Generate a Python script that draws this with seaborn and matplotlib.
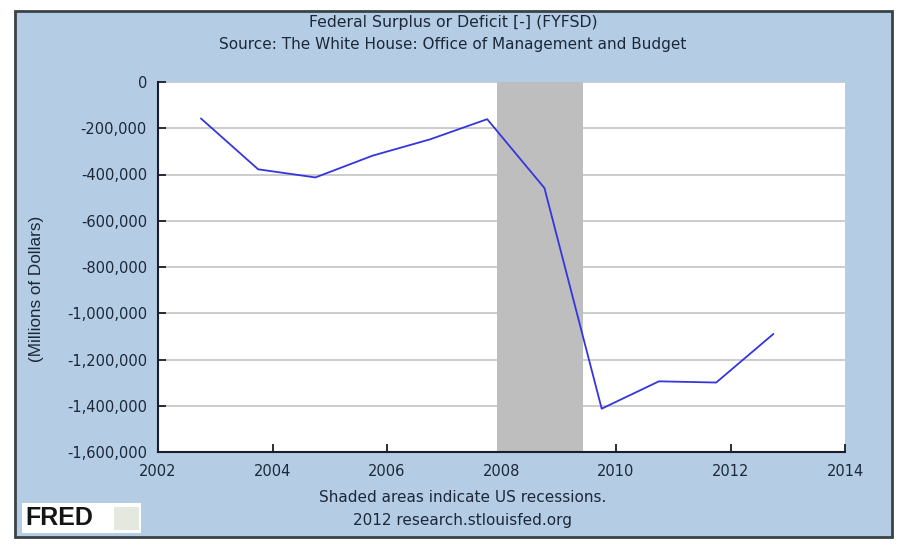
import numpy as np
import pandas as pd
import matplotlib
matplotlib.use('Agg')
import matplotlib.pyplot as plt
import matplotlib.ticker as mticker
from matplotlib.patches import Rectangle
import seaborn as sns

# fiscal year end dates (decimal years) and deficit, millions of dollars
fy_dates = [2002.75, 2003.75, 2004.75, 2005.75, 2006.75, 2007.75,
            2008.75, 2009.75, 2010.75, 2011.75, 2012.75]
surplus = [-157758, -377585, -412727, -318346, -248181, -160701,
           -458553, -1412686, -1294373, -1299595, -1089353]

recession_start = 2007.917
recession_end = 2009.417

x_ticks = [2002, 2004, 2006, 2008, 2010, 2012, 2014]
y_ticks = [0, -200000, -400000, -600000, -800000, -1000000,
           -1200000, -1400000, -1600000]

title = 'Federal Surplus or Deficit [-] (FYFSD)'
subtitle = 'Source: The White House: Office of Management and Budget'
y_label = '(Millions of Dollars)'
footer1 = 'Shaded areas indicate US recessions.'
footer2 = '2012 research.stlouisfed.org'

sns.set_style('white')
plt.rcParams['font.family'] = ['DejaVu Sans']

bg = '#b4cde5'
ink = '#1c2838'

fig = plt.figure(figsize=(9.06, 5.48), dpi=100)
fig.patch.set_facecolor('white')
fig.patches.append(Rectangle((15 / 906, 1 - 537 / 548), 877 / 906, 526 / 548,
                             transform=fig.transFigure, facecolor=bg,
                             edgecolor='#3a4246', linewidth=2, zorder=0))

ax = fig.add_axes([158 / 906, 1 - 452 / 548, 687 / 906, 370 / 548])
ax.set_zorder(2)
ax.set_facecolor('white')

df = pd.DataFrame({'date': fy_dates, 'value': surplus})
ax.axvspan(recession_start, recession_end, color='#bebebe', zorder=2, lw=0)
sns.lineplot(data=df, x='date', y='value', ax=ax, color='#3535e0',
             linewidth=1.3, zorder=3)

ax.set_xlim(2002, 2014)
ax.set_ylim(-1600000, 0)
ax.set_xticks(x_ticks)
ax.set_yticks(y_ticks)
ax.yaxis.set_major_formatter(mticker.FuncFormatter(lambda v, p: f'{int(v):,}'))
ax.grid(axis='y', color='#c4c4c4', linewidth=1.2, zorder=1)
ax.set_axisbelow(True)
ax.set_xlabel('')
ax.set_ylabel('')

for side in ['top', 'right']:
    ax.spines[side].set_visible(False)
for side in ['left', 'bottom']:
    ax.spines[side].set_color('#1a1e2a')
    ax.spines[side].set_linewidth(1.5)
    ax.spines[side].set_zorder(4)

ax.tick_params(axis='both', direction='in', length=6, width=1.3,
               color='#1a1e2a', labelcolor=ink, labelsize=10.5,
               bottom=True, left=True)
ax.tick_params(axis='y', pad=8)
ax.tick_params(axis='x', pad=9)

fig.text(37 / 906, 1 - 289 / 548, y_label, rotation=90, ha='center',
         va='center', fontsize=12.3, color=ink, family='Liberation Sans')
fig.text(0.5, 1 - 22 / 548, title, ha='center', va='center',
         fontsize=11.3, color=ink)
fig.text(0.5, 1 - 45 / 548, subtitle, ha='center', va='center',
         fontsize=11, color=ink)
fig.text(463 / 906, 1 - 498 / 548, footer1, ha='center', va='center',
         fontsize=11, color=ink)
fig.text(463 / 906, 1 - 520 / 548, footer2, ha='center', va='center',
         fontsize=11, color=ink)

# FRED logo: white box, wordmark and a pale icon square
fig.patches.append(Rectangle((22 / 906, 1 - 533 / 548), 119 / 906, 30 / 548,
                             transform=fig.transFigure, facecolor='white',
                             edgecolor='none', zorder=1))
fig.patches.append(Rectangle((114 / 906, 1 - 530 / 548), 25 / 906, 23 / 548,
                             transform=fig.transFigure, facecolor='#e4e9e0',
                             edgecolor='none', zorder=1))
fig.text(25 / 906, 1 - 518 / 548, 'FRED', ha='left', va='center',
         fontsize=18, fontweight='heavy', color='#151515',
         family='Liberation Sans')

fig.savefig('out.png', dpi=100, facecolor='white')
